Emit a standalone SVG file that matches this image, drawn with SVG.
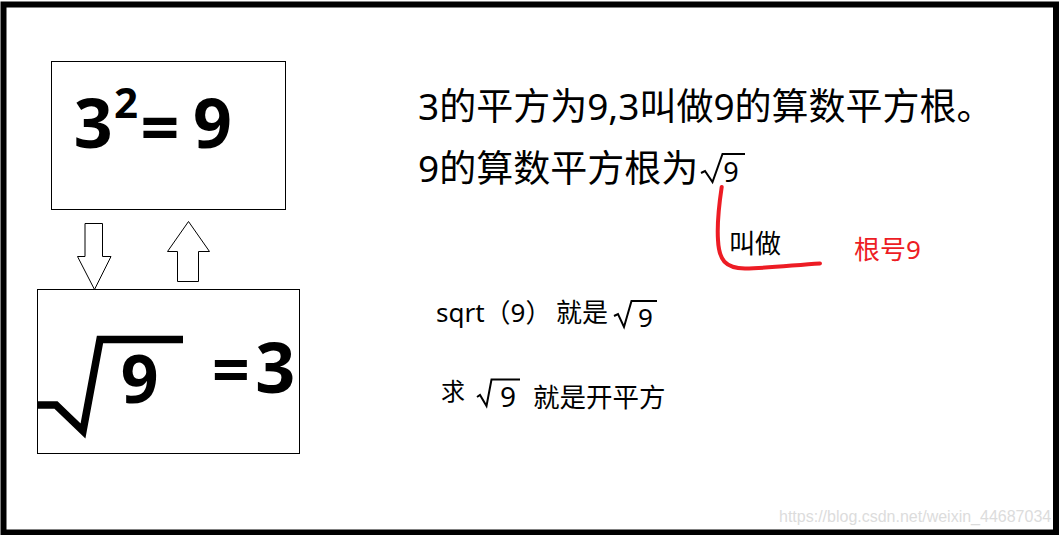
<svg xmlns="http://www.w3.org/2000/svg" width="1059" height="535" viewBox="0 0 1059 535">
<style>
.box{fill:#fff;stroke:#000;stroke-width:1}
.big{font-family:"Noto Sans","Open Sans",sans-serif;font-weight:bold;fill:#000;text-anchor:middle}
.t{font-family:"Noto Sans","Noto Sans CJK SC",sans-serif;fill:#000}
.red{fill:#ED1C24}
.rad{fill:none;stroke:#000;stroke-width:2;stroke-linejoin:miter}
.arrow{fill:#fff;stroke:#000;stroke-width:1}
</style>
<rect x="0" y="0" width="1059" height="535" fill="#fff"/>
<rect x="3.5" y="4.5" width="1052.5" height="528" fill="none" stroke="#000" stroke-width="6"/>
<g id="node-square">
<rect class="box" x="51.5" y="61.5" width="234" height="148"/>
<text class="big" x="93.3" y="148" font-size="68">3</text>
<text class="big" x="126" y="118" font-size="42">2</text>
<text class="big" x="160" y="152" font-size="68">=</text>
<text class="big" x="212.5" y="148" font-size="68">9</text>
</g>
<g id="node-root">
<rect class="box" x="37.5" y="289.5" width="262" height="164"/>
<polyline points="37,405 56,405 83,431 100,339.5 183,339.5" fill="none" stroke="#000" stroke-width="7.5"/>
<text class="big" x="139.7" y="403" font-size="66">9</text>
<text class="big" x="231" y="394" font-size="66">=</text>
<text class="big" x="275.3" y="393" font-size="70">3</text>
</g>
<g id="connectors">
<polygon class="arrow" points="85,223.5 102.5,223.5 102.5,256.5 111,256.5 94.5,289.5 77.5,256.5 85,256.5"/>
<polygon class="arrow" points="188.5,221.5 209.5,251.5 198.5,251.5 198.5,281.5 177.5,281.5 177.5,251.5 167.5,251.5"/>
<path d="M721.7,187 C719,205 717,225 718,240 C719,260 725,268 745,268.5 C770,268 795,265 820,263.5" fill="none" stroke="#ED1C24" stroke-width="4" stroke-linecap="round"/>
</g>
<g id="node-text1">
<text class="t" x="418" y="119.5" font-size="37">3的平方为9,3叫做9的算数平方根。</text>
</g>
<g id="node-text2">
<text class="t" x="418" y="182" font-size="37">9的算数平方根为</text>
<polyline class="rad" points="701,173 705,171 712.5,182 722.5,154 745,154"/>
<text class="t" x="731" y="181.7" font-size="27" text-anchor="middle">9</text>
</g>
<g id="node-jiaozuo">
<text class="t" x="729" y="253" font-size="26">叫做</text>
</g>
<g id="node-genhao">
<text class="t red" x="854" y="259.3" font-size="26">根号9</text>
</g>
<g id="node-sqrt">
<text class="t" x="436" y="321.7" font-size="26">sqrt（9）</text>
<text class="t" x="556" y="321.5" font-size="26">就是</text>
<polyline class="rad" points="614,316 618,314 624,327 631.5,301 657,301"/>
<text class="t" x="645.5" y="326.5" font-size="26" text-anchor="middle">9</text>
</g>
<g id="node-qiu">
<text class="t" x="441" y="400" font-size="24">求</text>
<polyline class="rad" points="477,397 480,395 486.5,406 491.5,379.5 520,379.5"/>
<text class="t" x="508" y="406.5" font-size="28" text-anchor="middle">9</text>
<text class="t" x="533" y="407" font-size="26.5">就是开平方</text>
</g>
<text x="779" y="522.3" font-family="Liberation Sans, Arial, sans-serif" font-size="16" fill="#dcdcdc">https://blog.csdn.net/weixin_44687034</text>
</svg>
